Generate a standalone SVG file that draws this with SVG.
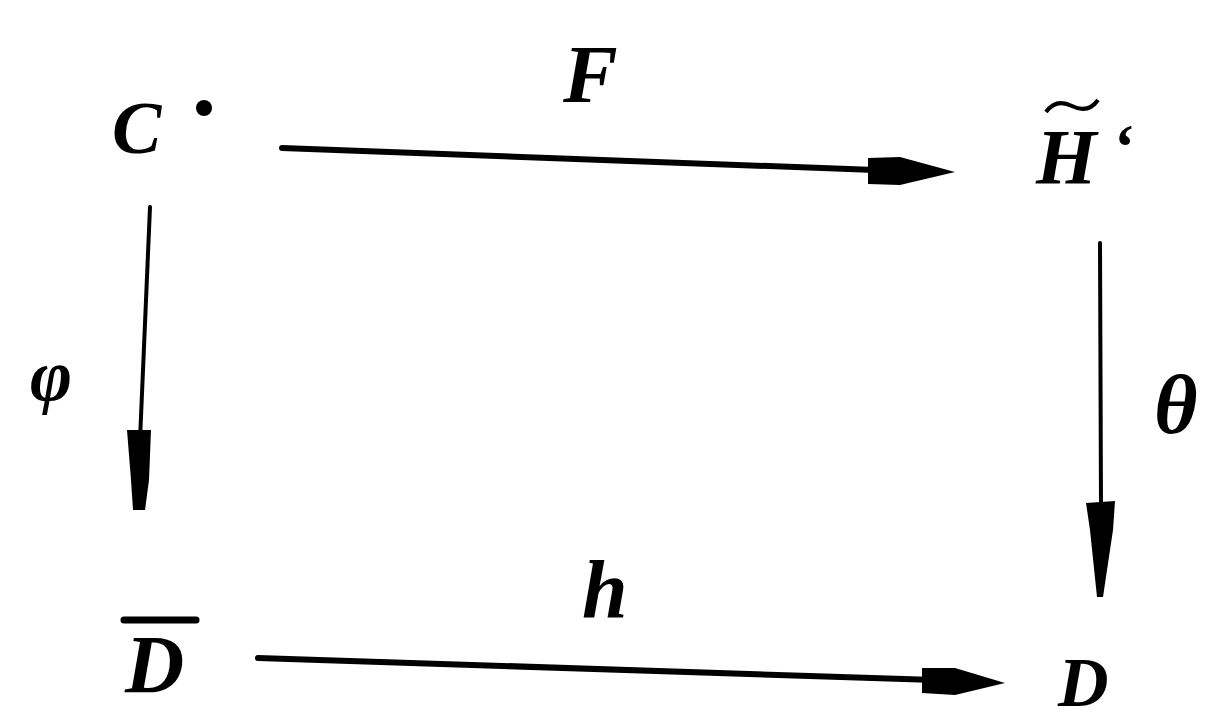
<svg xmlns="http://www.w3.org/2000/svg" width="1207" height="722" viewBox="0 0 1207 722">
<style>
.t{font-family:"Liberation Serif","DejaVu Serif",serif;font-style:italic;font-weight:bold;fill:#000}
.ln{stroke:#000;fill:none;stroke-linecap:round}
.ah{fill:#000}
</style>
<rect width="1207" height="722" fill="#fff"/>
<g id="connectors">
  <g id="e-F">
    <path class="ln" d="M282,148 L875,170" stroke-width="6"/>
    <path class="ah" d="M868,158 L900,157 L955,172 L900,185 L868,184 Z"/>
  </g>
  <g id="e-phi">
    <path class="ln" d="M150,207 L140,440" stroke-width="4"/>
    <path class="ah" d="M127,430 L151,430 L149,480 L145,510 L133,510 L131,480 Z"/>
  </g>
  <g id="e-theta">
    <path class="ln" d="M1100,243 L1101,505" stroke-width="4"/>
    <path class="ah" d="M1086,503 L1115,501 L1113,530 L1103,597 L1097,597 L1090,530 Z"/>
  </g>
  <g id="e-h">
    <path class="ln" d="M258,658 L935,680" stroke-width="6"/>
    <path class="ah" d="M922,668 L955,668 L1005,683 L955,695 L922,693 Z"/>
  </g>
</g>
<g id="node-C">
  <text class="t" x="112" y="153" font-size="74">C</text>
  <circle cx="204" cy="108" r="8"/>
</g>
<g id="node-H">
  <text class="t" x="1036" y="183" font-size="78">H</text>
  <path d="M1046,112 Q1056,98 1072,106 Q1088,114 1098,100" stroke="#000" stroke-width="4" fill="none"/>
  <text class="t" x="1112" y="168" font-size="64">‘</text>
</g>
<g id="node-Dbar">
  <line x1="124" y1="620" x2="196" y2="620" stroke="#000" stroke-width="7" stroke-linecap="round"/>
  <text class="t" x="125" y="692" font-size="82">D</text>
</g>
<g id="node-D">
  <text class="t" x="1058" y="706" font-size="70">D</text>
</g>
<g id="labels">
  <text class="t" x="563" y="102" font-size="82">F</text>
  <text class="t" x="582" y="617" font-size="82">h</text>
  <text class="t" x="30" y="400" font-size="72">φ</text>
  <text class="t" x="1154" y="433" font-size="84">θ</text>
</g>
</svg>
